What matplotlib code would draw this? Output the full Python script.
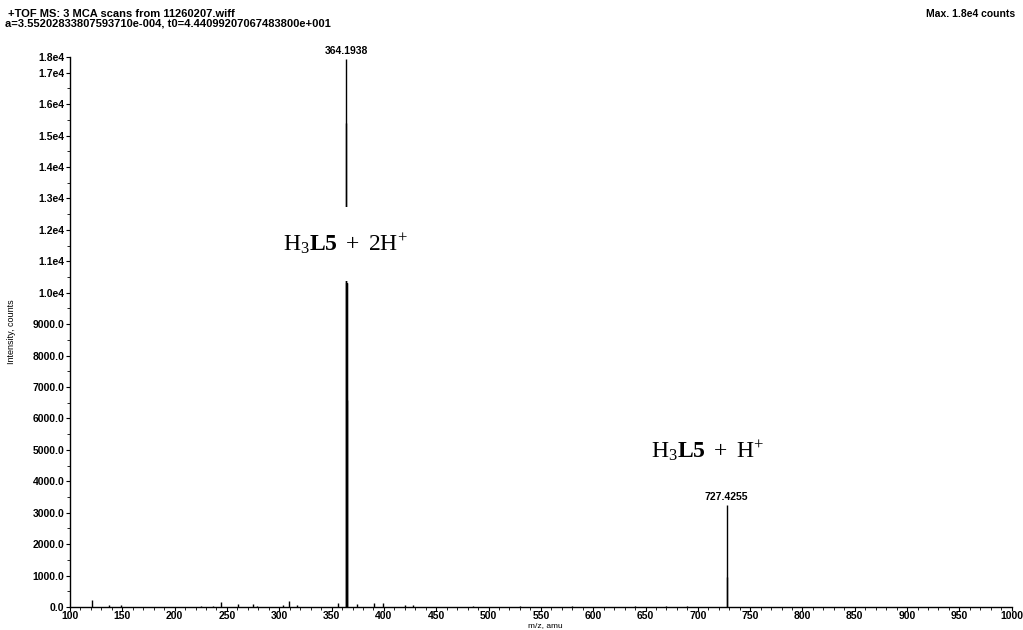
import numpy as np
import matplotlib.pyplot as plt

plt.rcParams.update({
    "font.family": "Liberation Sans",
    "mathtext.fontset": "custom",
    "mathtext.rm": "Liberation Serif",
    "mathtext.bf": "Liberation Serif:bold",
    "mathtext.it": "Liberation Serif:italic",
})

# main peaks (m/z, counts)
peak_mz = [364.1938, 364.0, 364.69, 365.19, 727.4255, 727.93]
peak_int = [17450, 15400, 10300, 6600, 3250, 950]

# small baseline peaks
small_mz = [121, 137, 149, 225, 237, 244, 261, 275, 279, 304, 309, 317,
            356, 374, 391, 399, 420, 428, 485, 530, 580, 640, 670, 690]
small_int = [220, 60, 60, 30, 40, 170, 90, 80, 40, 60, 200, 60,
             120, 80, 130, 120, 70, 50, 20, 20, 20, 25, 30, 25]

ytick_vals = list(range(0, 18000, 1000))
ytick_labels = ["%.1f" % v if v < 10000 else "%.1fe4" % (v / 10000) for v in ytick_vals]
y_top = 17500

fig = plt.figure(figsize=(10.23, 6.30), dpi=100)
ax = fig.add_axes([0.0684, 0.0365, 0.9206, 0.873])

ax.vlines(small_mz, 0, small_int, color="black", linewidth=1.0)
ax.vlines(peak_mz, 0, peak_int, color="black", linewidth=1.0)
ax.vlines([364.5], 0, [10300], color="black", linewidth=1.6)

ax.set_xlim(100, 1000)
ax.set_ylim(0, y_top)
ax.set_xticks(np.arange(100, 1001, 50))
ax.set_xticks(np.arange(100, 1001, 10), minor=True)
ax.set_yticks(ytick_vals + [y_top])
ax.set_yticklabels(ytick_labels + ["1.8e4"])
ax.set_yticks(np.arange(500, 17500, 1000), minor=True)

for s in ["top", "right"]:
    ax.spines[s].set_visible(False)
for s in ["left", "bottom"]:
    ax.spines[s].set_linewidth(1.0)

ax.tick_params(axis="both", which="major", direction="out", length=3, width=0.8,
               labelsize=7.5, pad=1)
ax.tick_params(axis="x", which="major", pad=0)
ax.tick_params(axis="both", which="minor", direction="out", length=2, width=0.6)
for lab in ax.get_xticklabels() + ax.get_yticklabels():
    lab.set_fontweight("bold")

ax.set_xlabel("m/z, amu", fontsize=6, va="bottom")
ax.set_ylabel("Intensity, counts", fontsize=6.5)
ax.xaxis.set_label_coords(0.505, -0.04)
ax.yaxis.set_label_coords(-0.057, 0.5)

ax.annotate("364.1938", (peak_mz[0], peak_int[0]), xytext=(0, 2),
            textcoords="offset points", ha="center", va="bottom", fontsize=7.5,
            fontweight="bold")
ax.annotate("727.4255", (peak_mz[4], peak_int[4]), xytext=(0, 2),
            textcoords="offset points", ha="center", va="bottom", fontsize=7.5,
            fontweight="bold")

ax.text(363, 11550, r"$\mathrm{H_3}\mathbf{L5}\mathrm{\ +\ 2H^{+}}$", ha="center",
        va="center", fontsize=17,
        bbox=dict(facecolor="white", edgecolor="none", pad=18))
ax.text(709, 4980, r"$\mathrm{H_3}\mathbf{L5}\mathrm{\ +\ H^{+}}$", ha="center",
        va="center", fontsize=17)

fig.text(0.008, 0.978, "+TOF MS: 3 MCA scans from 11260207.wiff", fontsize=8,
         fontweight="bold", va="center")
fig.text(0.005, 0.962, "a=3.55202833807593710e-004, t0=4.44099207067483800e+001",
         fontsize=8, fontweight="bold", va="center")
fig.text(0.992, 0.978, "Max. 1.8e4 counts", fontsize=7.5, fontweight="bold",
         ha="right", va="center")

fig.savefig("out.png", dpi=100)
